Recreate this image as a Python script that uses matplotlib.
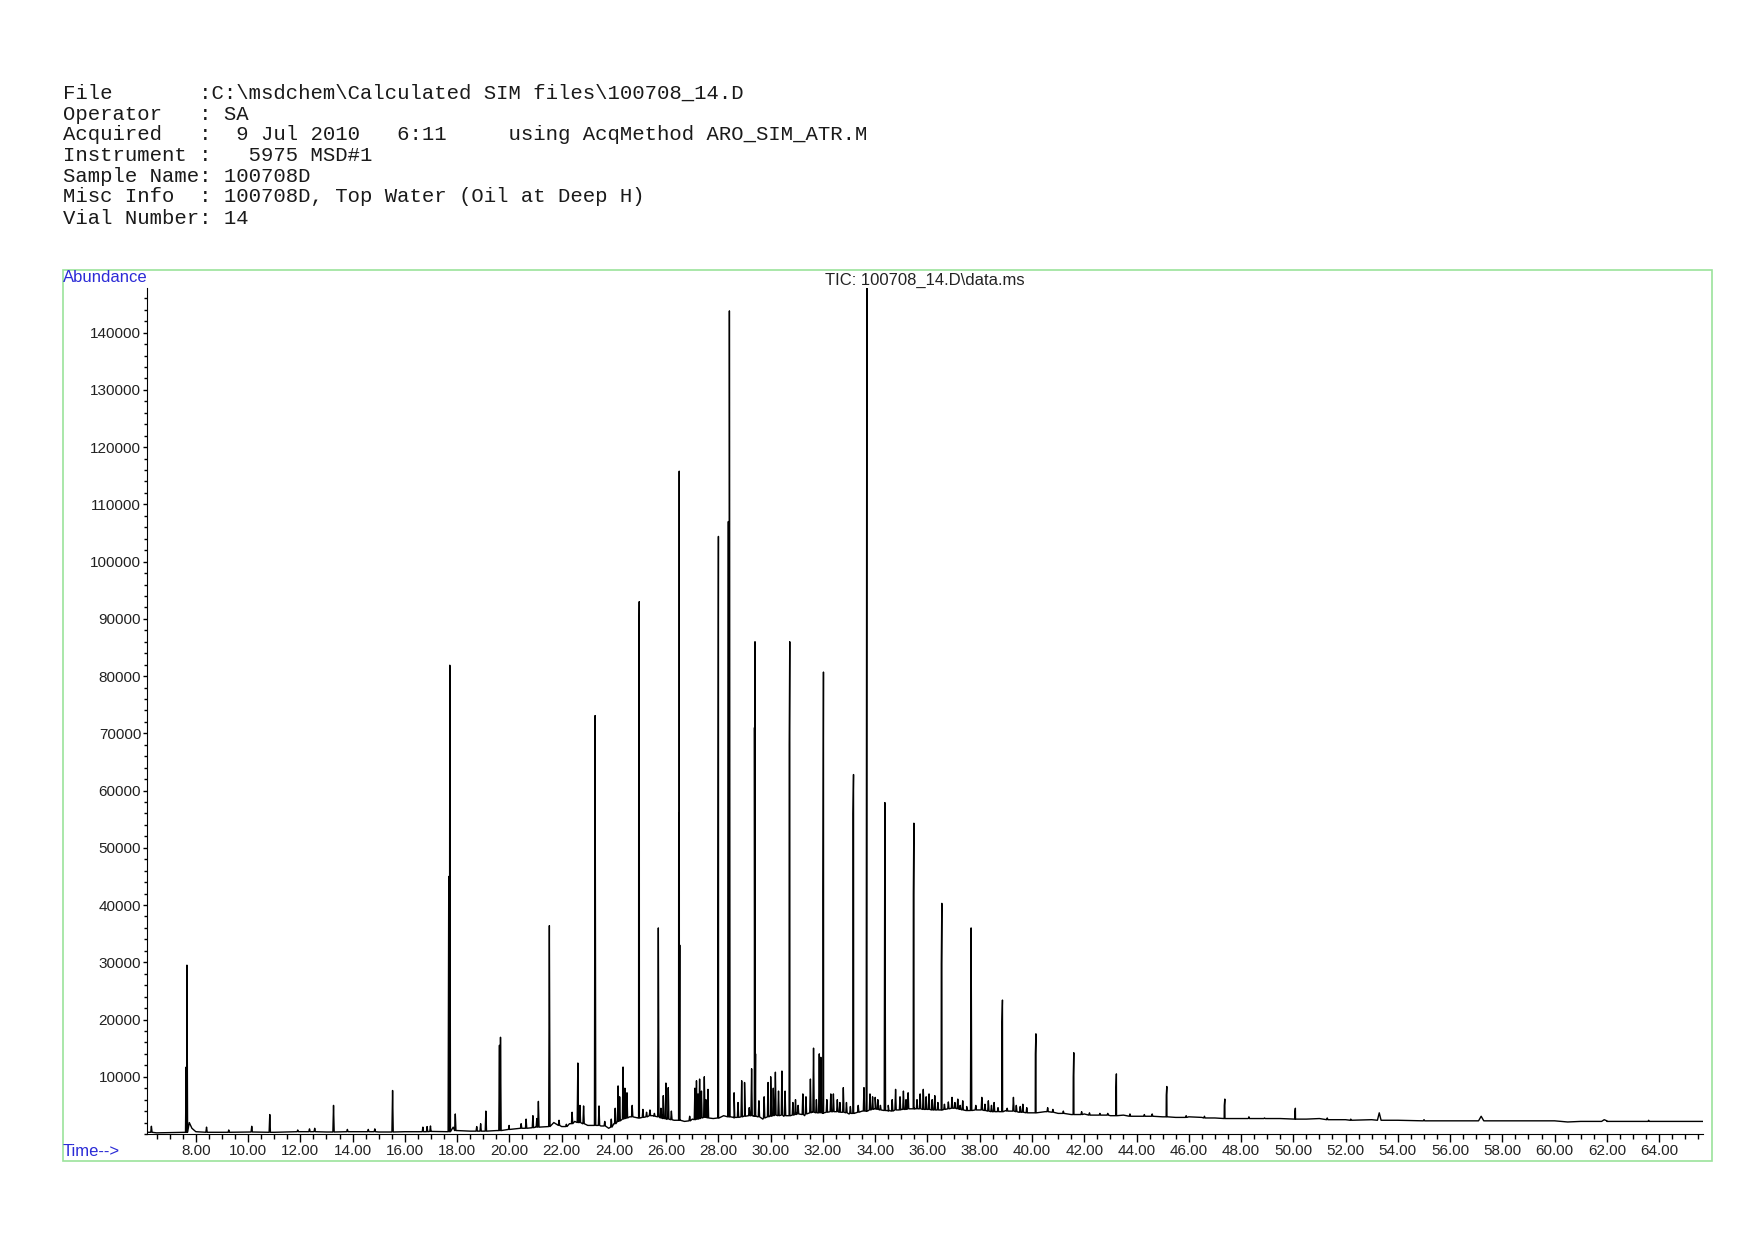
import matplotlib
matplotlib.use("Agg")
import matplotlib.pyplot as plt
from matplotlib.ticker import MultipleLocator, FixedLocator, FormatStrFormatter
from matplotlib.patches import Rectangle
import numpy as np

# header block (instrument report)
header_lines = [
    "File       :C:\\msdchem\\Calculated SIM files\\100708_14.D",
    "Operator   : SA",
    "Acquired   :  9 Jul 2010   6:11     using AcqMethod ARO_SIM_ATR.M",
    "Instrument :   5975 MSD#1",
    "Sample Name: 100708D",
    "Misc Info  : 100708D, Top Water (Oil at Deep H)",
    "Vial Number: 14",
]
trace_title = "TIC: 100708_14.D\\data.ms"

# baseline of the TIC trace (time in min, abundance)
base_t = [6.12, 6.5, 7.0, 7.5, 7.6, 7.75, 7.85, 8.0, 9.0, 10.0, 11.0, 12.0, 13.0, 14.0,
          15.0, 16.0, 17.0, 17.5, 17.85, 18.0, 18.5, 19.0, 19.5, 20.0, 20.5, 21.0, 21.5,
          21.7, 22.0, 22.3, 22.5, 22.8, 23.0, 23.5, 23.8, 24.0, 24.2, 24.6, 25.0, 25.5,
          26.0, 26.3, 26.7, 27.0, 27.5, 27.8, 28.2, 28.6, 29.0, 29.5, 29.7, 30.0, 30.5,
          31.0, 31.3, 31.6, 32.0, 32.5, 33.0, 33.5, 34.0, 34.5, 35.0, 35.5, 36.0, 36.5,
          37.0, 37.5, 38.0, 38.5, 39.0, 39.5, 40.0, 40.5, 41.0, 41.5, 42.0, 42.5, 43.0,
          43.5, 44.0, 44.5, 45.0, 45.5, 46.0, 46.5, 47.0, 47.7, 48.3, 49.0, 49.5, 50.0,
          50.5, 51.0, 52.0, 53.0, 54.0, 55.0, 56.0, 57.0, 58.0, 59.0, 60.0, 60.5, 61.0,
          61.5, 62.0, 62.5, 63.0, 64.0, 65.0, 65.68]
base_v = [300, 200, 250, 300, 300, 2000, 1000, 400, 300, 350, 300, 400, 350, 400,
          350, 400, 450, 400, 1200, 600, 500, 500, 600, 800, 1000, 1200, 1300,
          2000, 1300, 1800, 2200, 1800, 1500, 1400, 1000, 1800, 2500, 3000, 2800, 3200,
          2600, 2400, 2200, 2600, 3000, 2700, 3200, 2800, 3300, 3000, 2600, 3400, 3100,
          3600, 3200, 3900, 3600, 3900, 3500, 4000, 4400, 4000, 4300, 4500, 4300, 4200,
          4500, 4100, 4200, 3900, 4100, 3800, 3700, 3900, 3600, 3400, 3500, 3300, 3200,
          3300, 3100, 3100, 3000, 2900, 3000, 2900, 2800, 2700, 2900, 2700, 2700, 2600,
          2600, 2700, 2500, 2500, 2400, 2400, 2300, 2300, 2300, 2300, 2300, 2100, 2200,
          2200, 2300, 2200, 2200, 2200, 2200, 2200]

# sharp peaks: retention time, apex abundance, foot level
peak_t = [6.30, 7.63, 7.66, 8.41, 9.26, 10.14, 10.83, 11.90, 12.35, 12.55, 13.27, 13.80,
          14.60, 14.85, 15.53, 16.69, 16.85, 16.98, 17.68, 17.72, 17.93, 18.75, 18.90,
          19.10, 19.62, 19.66, 19.99, 20.45, 20.64, 20.90, 21.05, 21.11, 21.53, 21.90,
          22.18, 22.40, 22.62, 22.70, 22.84, 23.28, 23.43, 23.65, 23.90, 24.05, 24.16,
          24.22, 24.35, 24.42, 24.50, 24.70, 24.95, 24.97, 25.11, 25.25, 25.38, 25.55,
          25.70, 25.80, 25.89, 25.99, 26.08, 26.20, 26.48, 26.50, 26.52, 26.90, 27.10,
          27.16, 27.22, 27.28, 27.35, 27.46, 27.52, 27.60, 27.98, 28.00, 28.38, 28.42,
          28.44, 28.60, 28.75, 28.89, 29.00, 29.18, 29.27, 29.38, 29.40, 29.42, 29.55,
          29.75, 29.90, 30.00, 30.10, 30.18, 30.30, 30.43, 30.55, 30.71, 30.73, 30.85,
          30.95, 31.05, 31.23, 31.35, 31.52, 31.64, 31.75, 31.86, 31.92, 32.00, 32.02,
          32.15, 32.30, 32.40, 32.55, 32.65, 32.78, 32.90, 33.05, 33.15, 33.17, 33.35,
          33.57, 33.66, 33.68, 33.80, 33.90, 34.00, 34.10, 34.20, 34.37, 34.50, 34.65,
          34.78, 34.95, 35.08, 35.18, 35.26, 35.46, 35.48, 35.60, 35.72, 35.84, 35.95,
          36.06, 36.18, 36.28, 36.40, 36.53, 36.55, 36.65, 36.80, 36.94, 37.05, 37.16,
          37.25, 37.35, 37.50, 37.67, 37.85, 38.08, 38.20, 38.33, 38.45, 38.55, 38.70,
          38.85, 38.87, 39.05, 39.29, 39.40, 39.55, 39.65, 39.80, 40.13, 40.15, 40.60,
          40.80, 41.20, 41.58, 41.60, 41.90, 42.20, 42.60, 42.90, 43.21, 43.23, 43.75,
          44.30, 44.60, 45.14, 45.16, 45.90, 46.60, 47.36, 47.38, 48.30, 48.90, 50.06,
          50.08, 51.30, 52.20, 55.00, 63.60]
peak_h = [1350, 11700, 29500, 1200, 700, 1350, 3400, 700, 900, 1000, 5000, 800,
          800, 900, 7600, 1200, 1300, 1400, 45000, 81900, 3500, 1300, 1800,
          4000, 15500, 16900, 1500, 1800, 2600, 3200, 2700, 5700, 36400, 2400,
          1700, 3800, 12400, 5000, 4900, 73100, 4900, 2200, 2600, 4500, 8400,
          6500, 11700, 8000, 7200, 5000, 80000, 93000, 4300, 3800, 4200, 3600,
          36000, 4500, 6700, 8900, 8100, 4000, 56000, 115800, 33000, 3100, 8000,
          9300, 7000, 9600, 7500, 10000, 6000, 7800, 39000, 104400, 107000, 143800,
          31000, 7200, 5500, 9300, 9000, 4600, 11400, 71000, 86000, 14000, 5800,
          6500, 9000, 10000, 8000, 10800, 7500, 11000, 7500, 68000, 86000, 5500,
          6000, 5000, 7000, 6500, 9600, 15000, 6000, 14000, 13400, 42000, 80700,
          6000, 7000, 7000, 6000, 5500, 8100, 5500, 4800, 56000, 62800, 5000,
          8100, 34000, 148000, 7000, 6500, 6400, 6000, 5000, 57900, 5000, 6000,
          7800, 6500, 7500, 6000, 7200, 42000, 54300, 6000, 7000, 7800, 6500,
          7000, 6000, 6700, 5500, 29700, 40300, 5200, 5600, 6400, 5500, 6100,
          5000, 5800, 4800, 36000, 5000, 6400, 5200, 5800, 5000, 5500, 4600,
          19600, 23400, 4500, 6400, 5000, 4800, 5200, 4600, 14000, 17500, 4600,
          4300, 4000, 10000, 14200, 3900, 3700, 3600, 3600, 7500, 10500, 3500,
          3400, 3500, 6800, 8300, 3200, 3100, 5000, 6100, 3000, 2800, 3800,
          4500, 2800, 2600, 2500, 2400]
peak_b = [300, 300, 300, 300, 300, 350, 300, 400, 400, 400, 350, 400,
          400, 400, 350, 400, 400, 450, 400, 400, 600, 500, 500,
          500, 600, 600, 800, 1000, 1000, 1100, 1200, 1200, 1300, 1500,
          1300, 1800, 2000, 2000, 1800, 1500, 1500, 1400, 1200, 1800, 2200,
          2300, 2600, 2700, 2800, 3000, 2800, 2800, 2900, 3000, 3200, 3100,
          3000, 2800, 2700, 2700, 2600, 2500, 2400, 2400, 2400, 2300, 2500,
          2600, 2600, 2700, 2800, 2900, 2900, 2800, 2800, 2800, 3000, 3000,
          3000, 2900, 2900, 3000, 3100, 3200, 3200, 3100, 3100, 3100, 3000,
          2800, 3000, 3100, 3200, 3300, 3200, 3300, 3200, 3200, 3200, 3300,
          3400, 3500, 3400, 3500, 3700, 3800, 3700, 3700, 3700, 3700, 3700,
          3800, 3900, 3900, 3900, 3800, 3800, 3700, 3600, 3600, 3600, 3800,
          4000, 4000, 4000, 4200, 4300, 4400, 4300, 4200, 4100, 4100, 4000,
          4200, 4200, 4300, 4300, 4400, 4400, 4400, 4400, 4400, 4300, 4300,
          4300, 4200, 4200, 4200, 4200, 4200, 4300, 4400, 4500, 4500, 4400,
          4300, 4200, 4100, 4100, 4200, 4200, 4100, 4000, 3900, 3900, 3900,
          3900, 3900, 4000, 4000, 3900, 3800, 3800, 3700, 3700, 3700, 3900,
          3800, 3600, 3400, 3400, 3400, 3300, 3300, 3300, 3200, 3200, 3100,
          3100, 3100, 3000, 3000, 2900, 2800, 2700, 2700, 2700, 2700, 2600,
          2600, 2500, 2400, 2300, 2200]

# broader late-eluting bumps: time, apex, foot, half width (min)
bump_t = [53.29, 57.19, 61.90]
bump_h = [3700, 3100, 2500]
bump_b = [2400, 2300, 2200]
bump_w = [0.07, 0.10, 0.10]

# assemble trace: baseline points plus a narrow triangle per peak
half_w = 0.025
pts = list(zip(base_t, base_v))
for t, h, b in zip(peak_t, peak_h, peak_b):
    pts += [(t - half_w, b), (t, h), (t + half_w, b)]
for t, h, b, w in zip(bump_t, bump_h, bump_b, bump_w):
    pts += [(t - w, b), (t, h), (t + w, b)]
pts.sort(key=lambda p: p[0])
tx = np.array([p[0] for p in pts])
ty = np.array([p[1] for p in pts])

W, H = 1754, 1240
fig = plt.figure(figsize=(W / 100, H / 100), dpi=100)
fig.patch.set_facecolor("white")

# header text, monospace like the ChemStation printout
line_y = [93, 114, 135, 155.5, 176.5, 197, 218]
for txt, y in zip(header_lines, line_y):
    fig.text(62.6 / W, 1 - y / H, txt, family="Liberation Mono", fontsize=14.9,
             color="#1a1a1a", va="center", ha="left")

# green frame round the plot
fig.patches.append(Rectangle((62.7 / W, 1 - 1161 / H), (1712 - 62.7) / W, (1161 - 270) / H,
                             transform=fig.transFigure, fill=False,
                             edgecolor="#9be39b", linewidth=1.2))

ax_l, ax_r, ax_t, ax_b = 146.7, 1703, 288, 1134
ax = fig.add_axes([ax_l / W, 1 - ax_b / H, (ax_r - ax_l) / W, (ax_b - ax_t) / H])
ax.plot(tx, ty, color="black", linewidth=1.0)

ax.set_xlim(6.12, 65.68)
ax.set_ylim(0, 147800)
for s in ["top", "right"]:
    ax.spines[s].set_visible(False)

ax.xaxis.set_major_locator(MultipleLocator(2))
ax.xaxis.set_minor_locator(MultipleLocator(0.5))
ax.xaxis.set_major_formatter(FormatStrFormatter("%.2f"))
ax.yaxis.set_major_locator(FixedLocator(np.arange(10000, 140001, 10000)))
ax.yaxis.set_minor_locator(MultipleLocator(2000))
ax.yaxis.set_major_formatter(FormatStrFormatter("%d"))

ax.tick_params(axis="x", which="major", direction="out", length=6, width=1, pad=1,
               labelsize=11, labelcolor="#222222")
ax.tick_params(axis="x", which="minor", direction="out", length=3.5, width=1)
ax.tick_params(axis="y", which="major", direction="out", length=3, width=1, pad=1,
               labelsize=11, labelcolor="#222222")
ax.tick_params(axis="y", which="minor", direction="out", length=2, width=1)
for lab in ax.get_xticklabels() + ax.get_yticklabels():
    lab.set_family("Liberation Sans")

blue = "#2b2bd6"
fig.text(63 / W, 1 - 278 / H, "Abundance", family="Liberation Sans", fontsize=12,
         color=blue, va="center", ha="left")
fig.text(63 / W, 1 - 1152 / H, "Time-->", family="Liberation Sans", fontsize=12,
         color=blue, va="center", ha="left")
fig.text(925 / W, 1 - 280 / H, trace_title, family="Liberation Sans", fontsize=12,
         color="#222222", va="center", ha="center")

fig.savefig("out.png", dpi=100)
print("saved out.png")
